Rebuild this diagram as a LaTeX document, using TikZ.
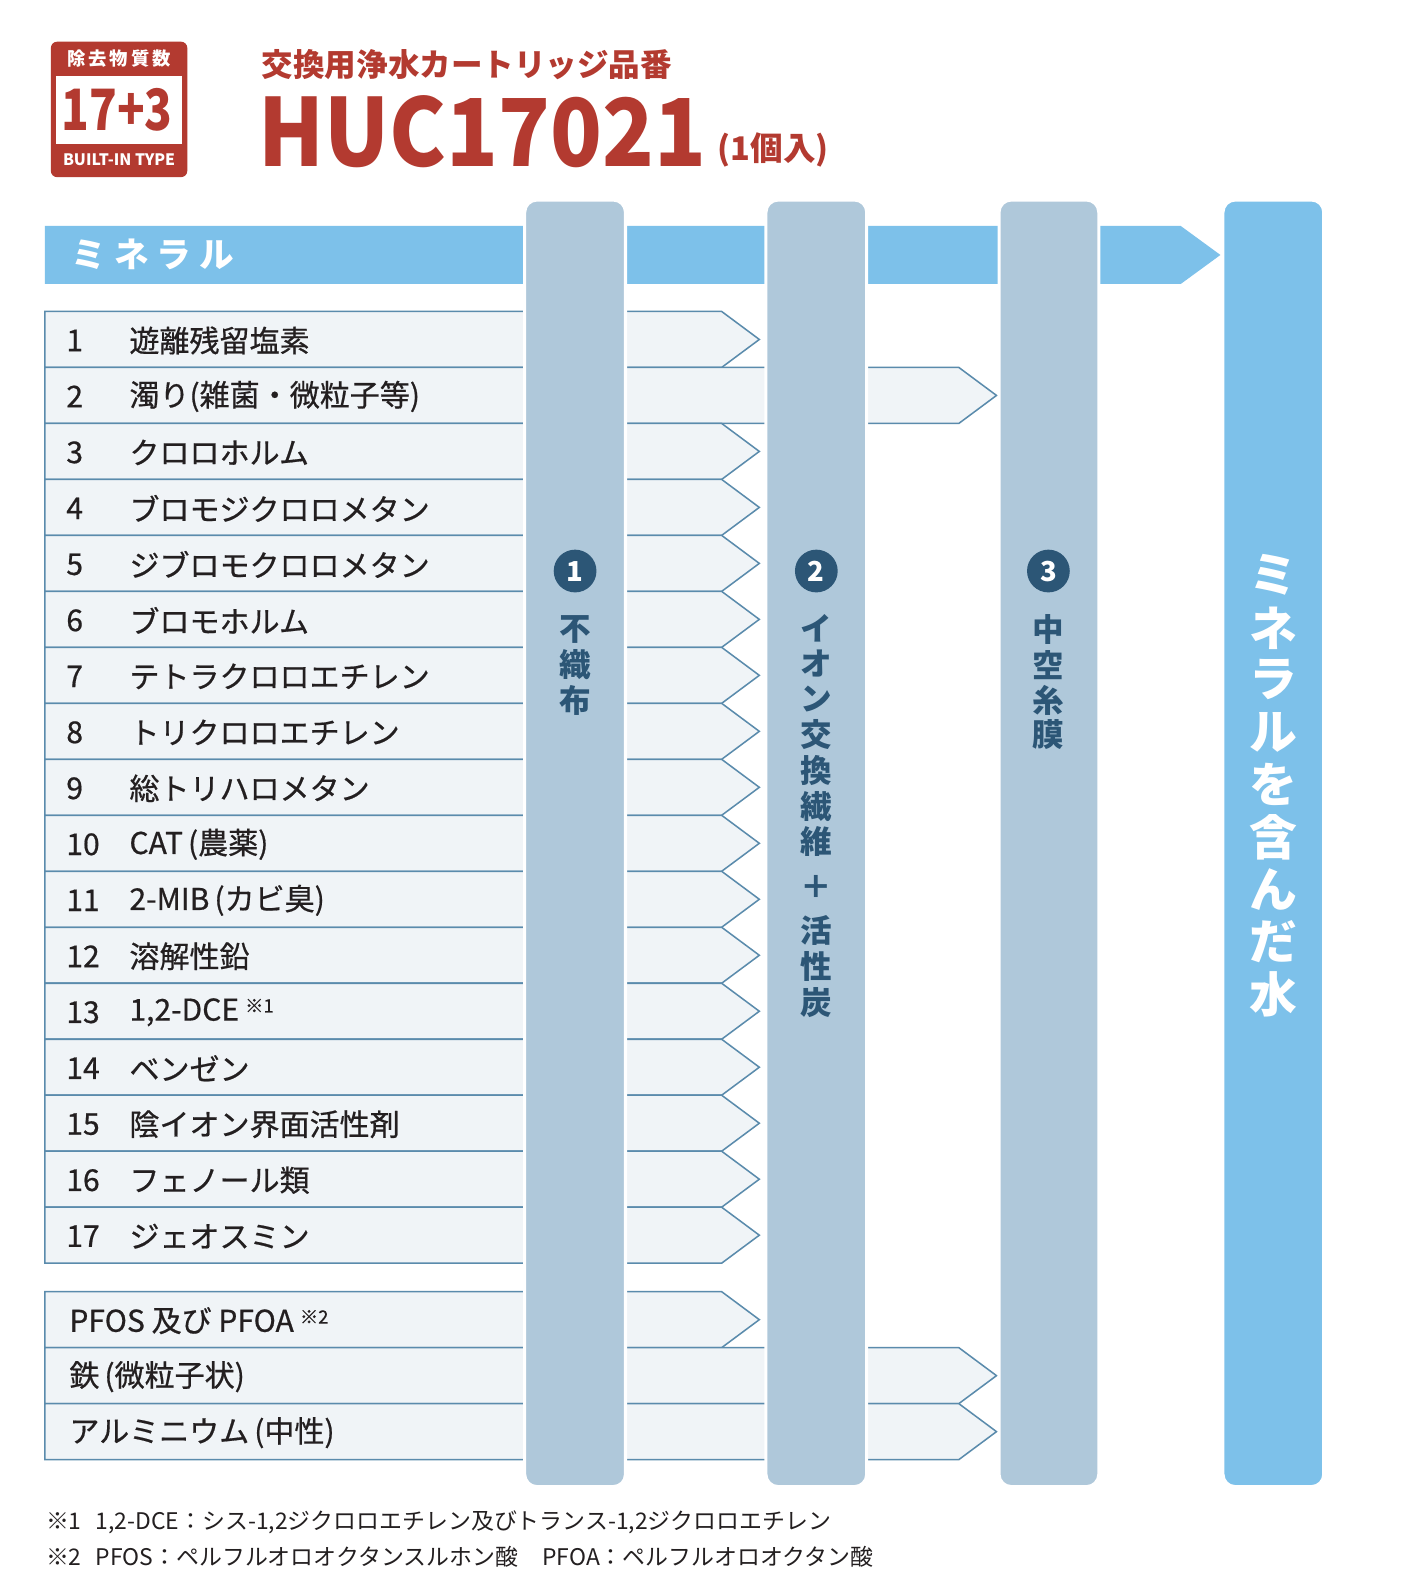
\documentclass[tikz,border=0pt]{standalone}
\usepackage{fontspec}
\usepackage{graphicx}
\setmainfont{Noto Sans CJK JP}
\newfontfamily\medfont{Noto Sans CJK JP}[FakeBold=0.6]
\newcommand\myfs[1]{\fontsize{#1}{#1}\selectfont}
\definecolor{hred}{HTML}{B33A30}
\definecolor{minblue}{HTML}{7DC1EA}
\definecolor{pillar}{HTML}{AFC8DA}
\definecolor{rowfill}{HTML}{F0F4F7}
\definecolor{rowline}{HTML}{5A8BAC}
\definecolor{navy}{HTML}{2C5676}
\definecolor{ink}{HTML}{231F20}
\tikzset{
  rowbox/.style={fill=rowfill, draw=rowline, line width=1.5pt, line join=miter},
  pillarbox/.style={fill=pillar, draw=white, line width=3pt, rounded corners=12pt},
  minpillar/.style={fill=minblue, draw=white, line width=3pt, rounded corners=12pt},
  rowtxt/.style={anchor=west, inner sep=0pt, text=ink, font=\medfont\myfs{29.5}},
  numcircle/.style={circle, fill=navy, minimum size=42pt, inner sep=0pt, text=white, font=\myfs{27}\bfseries},
  vchar/.style={inner sep=0pt, text=navy, font=\myfs{31}\bfseries},
  mchar/.style={inner sep=0pt, text=white, font=\myfs{47}\bfseries},
  foot/.style={anchor=west, inner sep=0pt, text=ink, font=\myfs{22.5}}
}
\begin{document}
\begin{tikzpicture}[x=1pt,y=-1pt]
\useasboundingbox (0,0) rectangle (1391,1568);
\fill[white] (0,0) rectangle (1391,1568);

% badge
\fill[hred, rounded corners=6pt] (50,41) rectangle (184,174);
\fill[white] (55,75) rectangle (179,141);
\node[inner sep=0pt, text=white, font=\myfs{18}\bfseries] (bdgtop) at (117,58) {除\,去\,物\,質\,数};
\node[inner sep=0pt, text=hred, font=\myfs{56}\bfseries] (bdgnum) at (115,108) {\scalebox{0.8}[1]{17+3}};
\node[inner sep=0pt, text=white, font=\myfs{15.5}\bfseries] (bdgbot) at (117,157) {BUILT-IN TYPE};

% title
\node[anchor=west, inner sep=0pt, text=hred, font=\myfs{31}\bfseries] (sub) at (257,63) {交換用浄水カートリッジ品番};
\node[anchor=base west, inner sep=0pt, text=hred, font=\myfs{92}\bfseries] (model) at (254,164) {\scalebox{0.91}[1]{HUC17021}};
\node[anchor=base west, inner sep=0pt, text=hred, font=\myfs{32}\bfseries] (qty) at (705,158) {(1個入)};

% mineral bar
\fill[minblue] (44,222) -- (1160,222) -- (1199,250.5) -- (1160,279) -- (44,279) -- cycle;
\node[anchor=west, inner sep=0pt, text=white, font=\myfs{34}\bfseries] (minlabel) at (70,250) {ミ\hspace{8pt}ネ\hspace{8pt}ラ\hspace{8pt}ル};

% rows
\foreach \i/\txt/\tip in {
  1/{遊離残留塩素}/746,
  2/{濁り(雑菌・微粒子等)}/979,
  3/{クロロホルム}/746,
  4/{ブロモジクロロメタン}/746,
  5/{ジブロモクロロメタン}/746,
  6/{ブロモホルム}/746,
  7/{テトラクロロエチレン}/746,
  8/{トリクロロエチレン}/746,
  9/{総トリハロメタン}/746,
  10/{CAT\,(農薬)}/746,
  11/{2-MIB\,(カビ臭)}/746,
  12/{溶解性鉛}/746,
  13/{1,2-DCE\hspace{6pt}\raisebox{8pt}{\myfs{18}※1}}/746,
  14/{ベンゼン}/746,
  15/{陰イオン界面活性剤}/746,
  16/{フェノール類}/746,
  17/{ジェオスミン}/746}{
  \pgfmathsetmacro\t{306+55*(\i-1)}
  \draw[rowbox] (44,\t) -- (\tip-37,\t) -- (\tip,\t+27.5) -- (\tip-37,\t+55) -- (44,\t+55) -- cycle;
  \node[rowtxt] (num\i) at (65,\t+28.5) {\i};
  \node[rowtxt] (lab\i) at (127,\t+28.5) {\txt};
}
\foreach \j/\txt/\tip/\t in {
  1/{PFOS 及び PFOA\hspace{6pt}\raisebox{8pt}{\myfs{18}※2}}/746/1269,
  2/{鉄\,(微粒子状)}/979/1324,
  3/{アルミニウム\,(中性)}/979/1379}{
  \draw[rowbox] (44,\t) -- (\tip-37,\t) -- (\tip,\t+27.5) -- (\tip-37,\t+55) -- (44,\t+55) -- cycle;
  \node[rowtxt] (ext\j) at (68,\t+28.5) {\txt};
}

% pillars
\draw[pillarbox] (515.5,196.5) rectangle (614.5,1460.5);
\draw[pillarbox] (752.5,196.5) rectangle (851.5,1460.5);
\draw[pillarbox] (981.5,196.5) rectangle (1079.5,1460.5);
\draw[minpillar] (1201.5,196.5) rectangle (1300.5,1460.5);

\node[numcircle] (c1) at (565,561) {1};
\node[numcircle] (c2) at (802,561) {2};
\node[numcircle] (c3) at (1030,561) {3};

\foreach \ch/\y [count=\k] in {不/618, 織/653, 布/688}
  \node[vchar] (pa\k) at (565,\y) {\ch};
\foreach \ch/\y [count=\k] in {イ/617, オ/652, ン/687, 交/722, 換/757, 繊/792, 維/827, ＋/871, 活/914, 性/950, 炭/985}
  \node[vchar] (pb\k) at (802,\y) {\ch};
\foreach \ch/\y [count=\k] in {中/618, 空/653, 糸/688, 膜/722}
  \node[vchar] (pc\k) at (1030,\y) {\ch};
\foreach \ch/\y [count=\k] in {ミ/565, ネ/617, ラ/668, ル/720, を/771, 含/823, ん/874, だ/925, 水/977}
  \node[mchar] (pm\k) at (1251,\y) {\ch};

% footnotes
\node[foot] (f1) at (45,1496) {※1\hspace{14pt}1,2-DCE：シス-1,2ジクロロエチレン及びトランス-1,2ジクロロエチレン};
\node[foot] (f2) at (45,1529) {※2\hspace{14pt}PFOS：ペルフルオロオクタンスルホン酸\hspace{24pt}PFOA：ペルフルオロオクタン酸};
\end{tikzpicture}
\end{document}
